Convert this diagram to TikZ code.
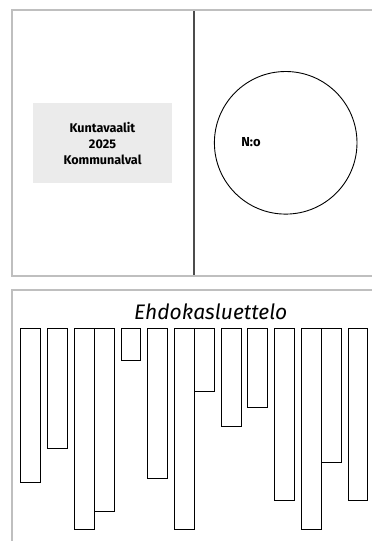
\documentclass[tikz,border=0pt]{standalone}
\usepackage{fontspec}
\setmainfont{Fira Sans}
\begin{document}
\begin{tikzpicture}[x=1pt,y=-1pt,
  panel/.style={draw=black!25,line width=2.4pt},
  divider/.style={draw=black!70,line width=1.4pt},
  label/.style={fill=black!8,minimum width=139pt,minimum height=80pt,inner sep=0pt,align=center,font=\fontsize{12.6}{16}\selectfont\bfseries},
  bar/.style={draw=black,line width=0.9pt}]
\useasboundingbox (0,0) rectangle (372,541);
\draw[panel] (377,10) -- (12,10) -- (12,276) -- (377,276);
\draw[panel] (377,290) -- (12,290) -- (12,546);
\coordinate (dtop) at (194,11);
\coordinate (dbot) at (194,275);
\draw[divider] (dtop) -- (dbot);
\node[label] (box) at (102.5,143) {Kuntavaalit\\2025\\Kommunalval};
\node[draw=black,line width=0.9pt,circle,minimum size=142.6pt,inner sep=0pt] (circ) at (285.7,142.8) {};
\node[font=\fontsize{13}{14}\selectfont\bfseries] (no) at (251,142.5) {N:o};
\node[font=\fontsize{21}{24}\selectfont\itshape] (title) at (210.7,311.5) {Ehdokasluettelo};
\foreach \xa/\xb/\yb in {20.7/40.7/482.3, 47.7/67.7/448.3, 74.3/94.3/529, 94.3/114/511.7, 121/140.7/360, 147.7/167.7/478, 174.3/194.3/529, 194.3/214.3/391.3, 221/241/426, 247.7/267.7/407.3, 274.3/294.3/500, 301.7/321.7/529, 321.7/341/462.3, 348.3/367.7/500}
  \draw[bar] (\xa,328.3) rectangle (\xb,\yb);
\end{tikzpicture}
\end{document}
